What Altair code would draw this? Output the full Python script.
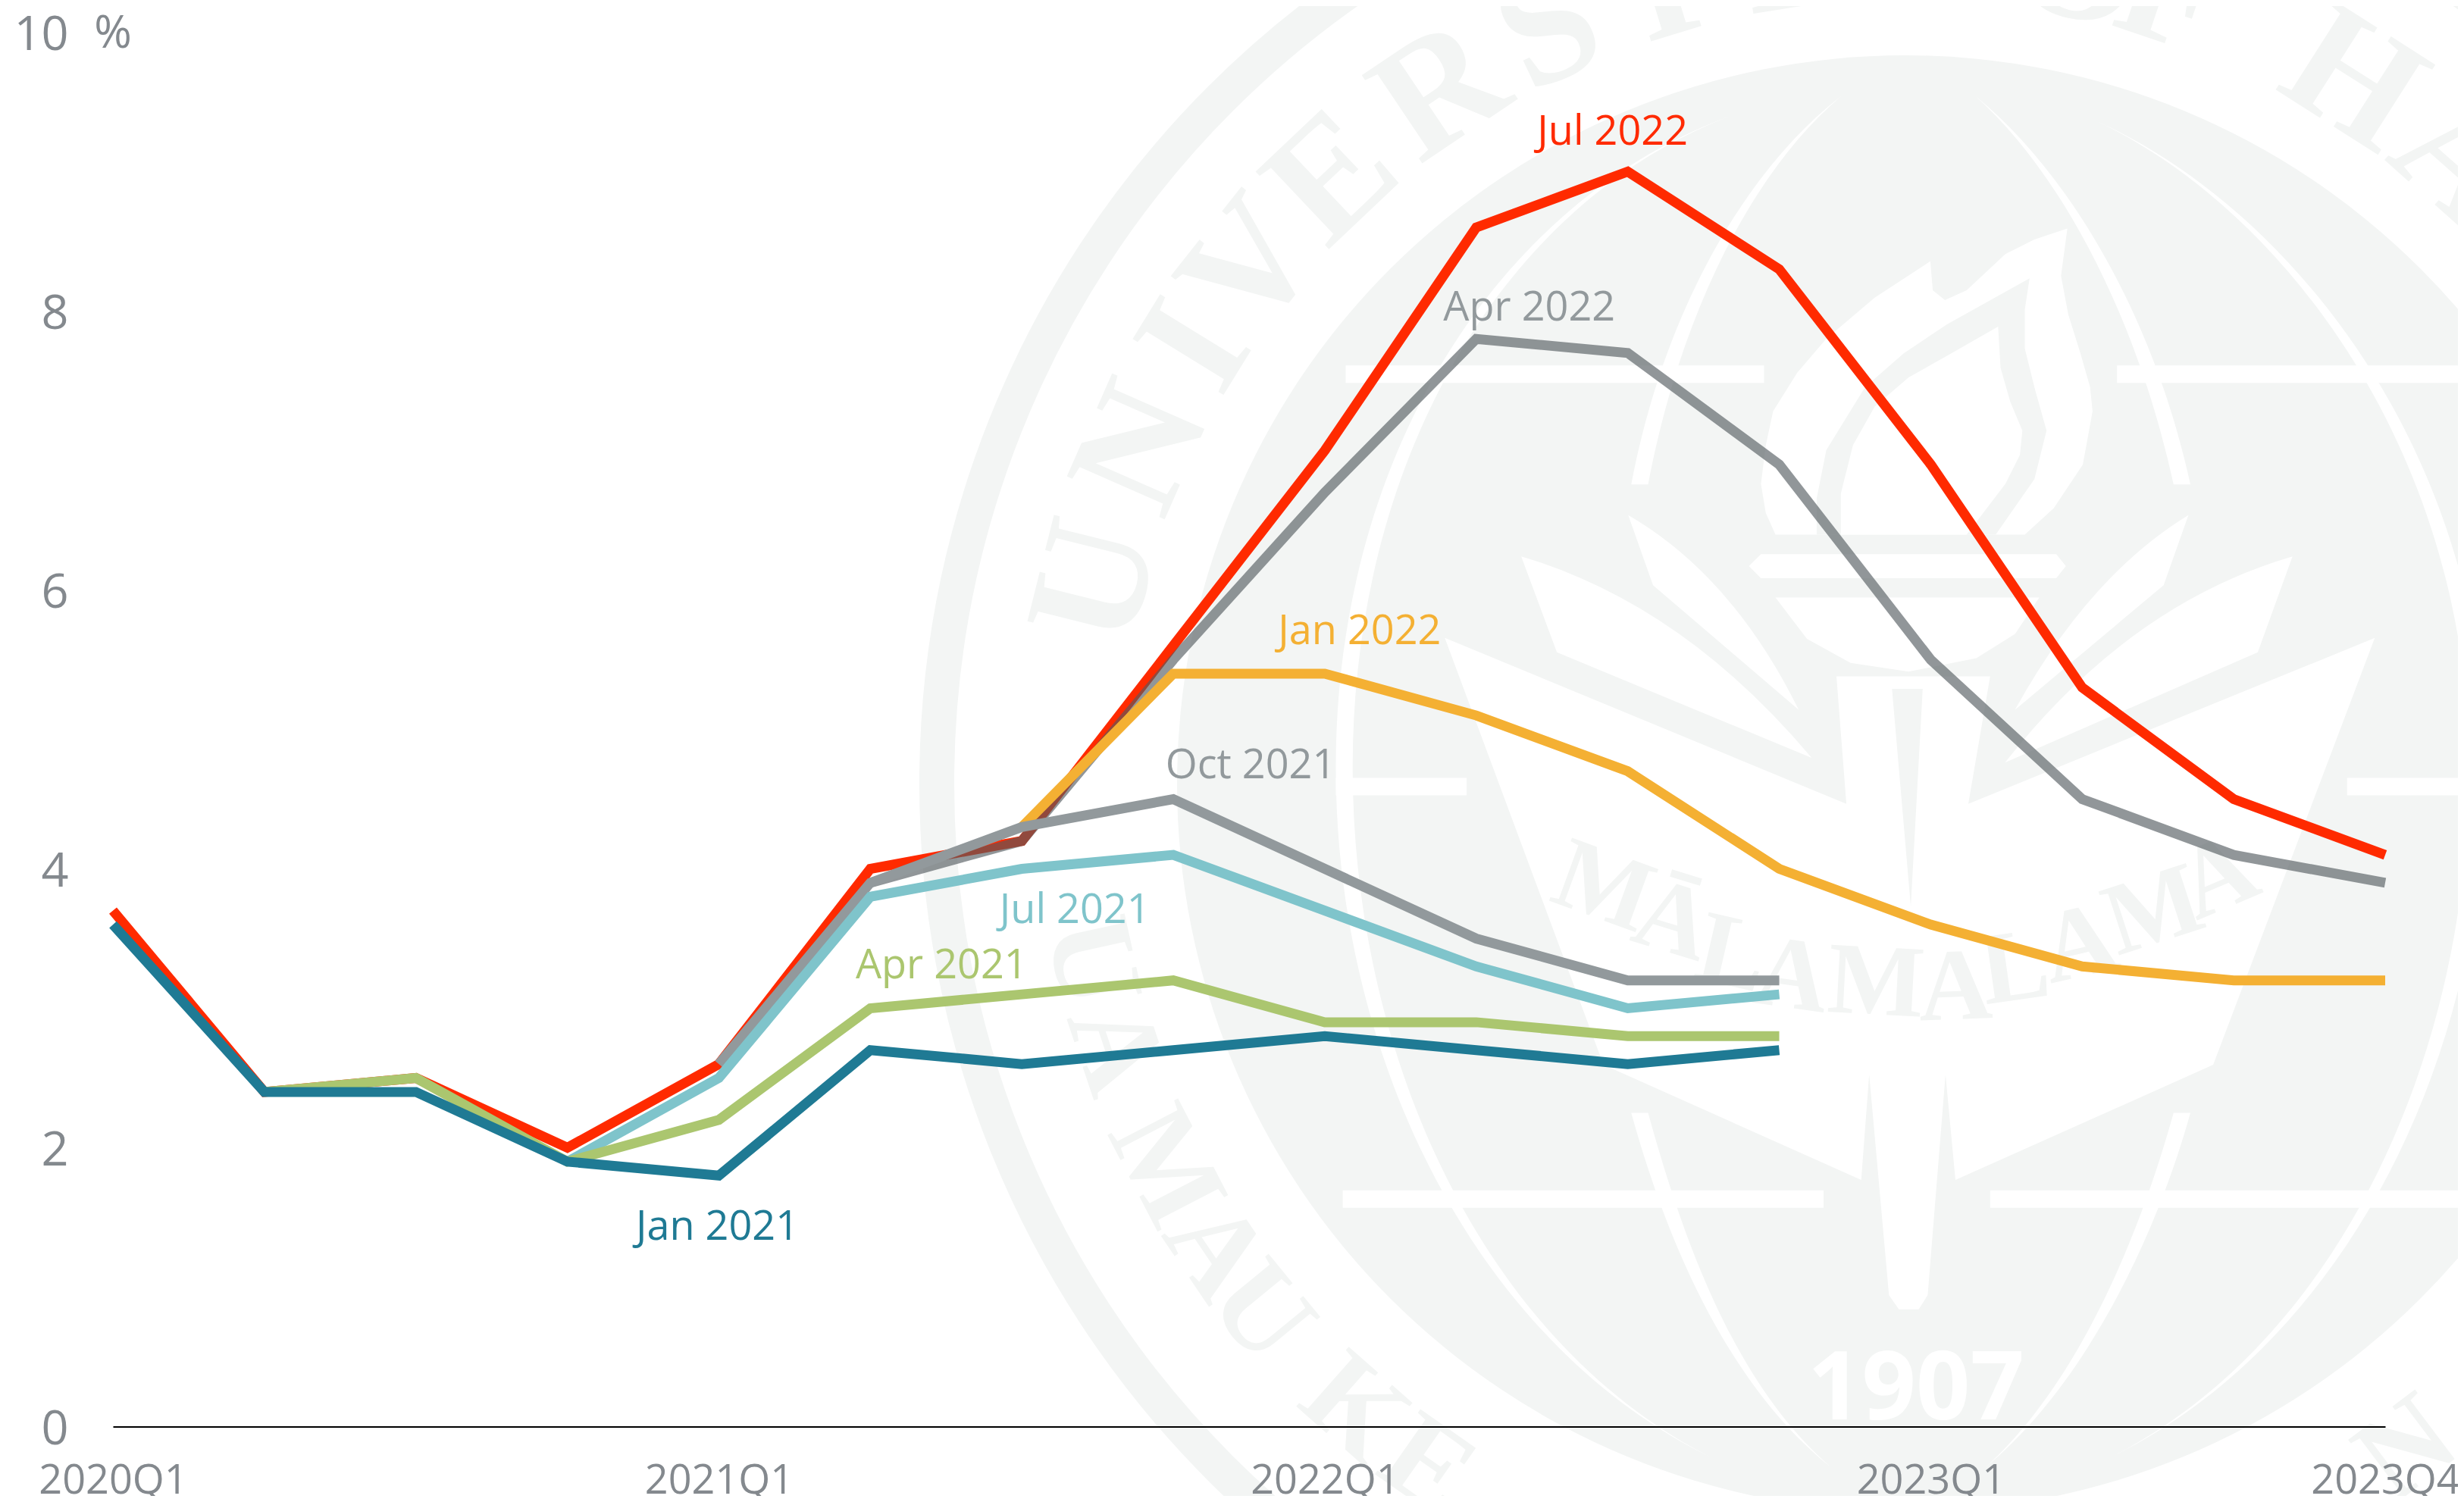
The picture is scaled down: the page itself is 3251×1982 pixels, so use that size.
import math
import altair as alt
import pandas as pd

# ---------- chart values ----------
tick_idx = [0, 4, 8, 12, 15]
tick_txt = ["2020Q1", "2021Q1", "2022Q1", "2023Q1", "2023Q4"]
y_ticks = [0, 2, 4, 6, 8, 10]

jul22 = [3.7, 2.4, 2.5, 2.0, 2.6, 4.0, 4.2, 5.6, 7.0, 8.6, 9.0, 8.3, 6.9, 5.3, 4.5, 4.1]
apr22 = [3.9, 4.2, 5.5, 6.7, 7.8, 7.7, 6.9, 5.5, 4.5, 4.1, 3.9]
jan22 = [4.3, 5.4, 5.4, 5.1, 4.7, 4.0, 3.6, 3.3, 3.2, 3.2]
oct21 = [2.6, 3.9, 4.3, 4.5, 4.0, 3.5, 3.2, 3.2]
jul21 = [1.9, 2.5, 3.8, 4.0, 4.1, 3.7, 3.3, 3.0, 3.1]
apr21 = [2.4, 2.5, 1.9, 2.2, 3.0, 3.1, 3.2, 2.9, 2.9, 2.8, 2.8]
jan21 = [3.6, 2.4, 2.4, 1.9, 1.8, 2.7, 2.6, 2.7, 2.8, 2.7, 2.6, 2.7]

series = [
    ("Jul 2022", 0, jul22, "#ff2a00", 1.0),
    ("Apr 2022", 5, apr22, "#535b60", 0.64),
    ("Jan 2022", 6, jan22, "#f4b033", 1.0),
    ("Oct 2021", 4, oct21, "#92999c", 1.0),
    ("Jul 2021", 3, jul21, "#7fc4cb", 1.0),
    ("Apr 2021", 1, apr21, "#abc66f", 1.0),
    ("Jan 2021", 0, jan21, "#1f7a94", 1.0),
]
label_names = ["Jul 2022", "Apr 2022", "Jan 2022", "Oct 2021", "Jul 2021", "Apr 2021", "Jan 2021"]
label_x = [9.90, 9.35, 8.23, 7.51, 6.35, 5.47, 3.99]
label_y = [9.29, 8.03, 5.71, 4.75, 3.71, 3.31, 1.44]
label_col = ["#ff2a00", "#92999c", "#f4b033", "#92999c", "#7fc4cb", "#abc66f", "#1f7a94"]

GREY = "#f3f5f4"
TICK = "#84898e"
FONT = "Open Sans"
SEAL_FONT = "Liberation Serif"

# plot geometry
W, H = 2998, 1840
X0, Y0 = 149.0, 1882.5
UX, UY = W / 15, H / 10
CX, CY = 2514.0, 1034.0  # seal centre, page pixels


def to_x(px):
    return (px - X0) / UX


def to_y(py):
    return (Y0 - py) / UY


x_enc = alt.X(
    "x:Q",
    title=None,
    scale=alt.Scale(domain=[0, 15], nice=False, zero=False),
    axis=alt.Axis(
        values=tick_idx,
        labelExpr="{" + ",".join(f"'{i}':'{t}'" for i, t in zip(tick_idx, tick_txt)) + "}[datum.value]",
        grid=False, ticks=False, domainColor="#000000", domainWidth=2,
        labelFont=FONT, labelFontSize=54, labelColor=TICK, labelPadding=45, labelLimit=600,
        labelOverlap=False, labelFlush=False, labelBound=False, zindex=1,
    ),
)
y_enc = alt.Y(
    "y:Q",
    title=None,
    scale=alt.Scale(domain=[0, 10], nice=False),
    axis=alt.Axis(
        values=y_ticks, grid=False, ticks=False, domain=False, labelOffset=4,
        labelFont=FONT, labelFontSize=63, labelColor=TICK, labelPadding=59, labelLimit=600,
        labelOverlap=False, labelBound=False, labelFlush=False, zindex=1,
    ),
)

# ---------- seal watermark ----------
seal_at = pd.DataFrame({"x": [to_x(CX)], "y": [to_y(CY)]})
SCALE = 1000.0
PATH_SIZE = (2 * SCALE) ** 2


def zp(zx, zy):
    px = 1200 + zx / 0.7645
    py = zy / 0.79
    return f"{(px - CX) / SCALE:.4f},{(py - CY) / SCALE:.4f}"


def zp3(zx, zy):
    px = 2250 + zx / 1.566
    py = zy / 1.566
    return f"{(px - CX) / SCALE:.4f},{(py - CY) / SCALE:.4f}"


def build(cmds):
    out = []
    for c in cmds:
        op, pts = c[0], c[1:]
        out.append(op + " ".join(zp(*p) for p in pts))
    return " ".join(out)


def poly(pts):
    return build([("M", pts[0])] + [("L", p) for p in pts[1:]]) + " Z"


def poly3(pts):
    return "M" + zp3(*pts[0]) + " " + " ".join("L" + zp3(*p) for p in pts[1:]) + " Z"


def taper(p0, c1, c2, p3, w):
    """tapered white stroke: sharp at p0, w wide (in x) at p3"""
    return build([
        ("M", p0), ("C", c1, c2, p3), ("L", (p3[0] + w, p3[1])),
        ("C", (c2[0] + w, c2[1]), (c1[0] + w * 0.5, c1[1]), p0),
    ]) + " Z"


def seal_path(path, fill=None, stroke=None, sw=0):
    kw = dict(shape=path, size=PATH_SIZE, opacity=1)
    if fill:
        m = alt.Chart(seal_at).mark_point(filled=True, fill=fill, stroke=None, **kw)
    else:
        m = alt.Chart(seal_at).mark_point(filled=False, stroke=stroke, strokeWidth=sw, fill=None, **kw)
    return m.encode(x=x_enc, y=y_enc)


outer_ring = alt.Chart(seal_at).mark_point(
    shape="circle", filled=False, stroke=GREY, strokeWidth=46, size=(2 * 1278) ** 2, opacity=1
).encode(x=x_enc, y=y_enc)
disc = alt.Chart(seal_at).mark_point(
    shape="circle", filled=True, fill=GREY, stroke=None, size=(2 * 961) ** 2, opacity=1
).encode(x=x_enc, y=y_enc)

# curved lettering: angle from straight up (top) or straight down (bottom)
top_letters = list("UNIVERSITYOFHAWAII")
top_deg = [-76, -66.3, -58.4, -51.7, -43.4, -33.9, -25.3, -17, -9, -1, 12, 18.6, 32.5, 41.7, 50, 60, 67, 74]
bot_letters = list("UAMAUKEN")
bot_deg = [-77.6, -71.5, -62.6, -55.9, -50.6, -41.4, -35, 37]
R_TXT = 1100
top_rows = []
bot_rows = []
for ch, a in zip(top_letters, top_deg):
    t = math.radians(a)
    top_rows.append(dict(x=to_x(CX + R_TXT * math.sin(t)), y=to_y(CY - R_TXT * math.cos(t)), t=ch, a=a % 360))
for ch, a in zip(bot_letters, bot_deg):
    t = math.radians(a)
    bot_rows.append(dict(x=to_x(CX + R_TXT * math.sin(t)), y=to_y(CY + R_TXT * math.cos(t)), t=ch, a=(-a) % 360))
ring_text = alt.Chart(pd.DataFrame(top_rows)).mark_text(
    font=SEAL_FONT, fontSize=215, fontWeight="bold", color=GREY, baseline="middle", align="center"
).encode(x=x_enc, y=y_enc, text="t:N", angle=alt.Angle("a:Q", scale=None))
ring_text2 = alt.Chart(pd.DataFrame(bot_rows)).mark_text(
    font=SEAL_FONT, fontSize=160, fontWeight="bold", color=GREY, baseline="middle", align="center"
).encode(x=x_enc, y=y_enc, text="t:N", angle=alt.Angle("a:Q", scale=None))

# white globe lines
W_M = 17
merid = " ".join([
    taper((830, 120), (590, 210), (430, 480), (430, 800), W_M),
    taper((810, 1520), (570, 1400), (430, 1100), (430, 800), W_M),
    taper((1195, 125), (1400, 220), (1590, 480), (1590, 800), -W_M),
    taper((1210, 1520), (1450, 1400), (1590, 1100), (1590, 800), -W_M),
    taper((940, 100), (840, 180), (760, 330), (728, 505), W_M),
    taper((1075, 100), (1170, 180), (1255, 330), (1292, 505), -W_M),
    taper((930, 1530), (820, 1440), (760, 1280), (728, 1160), W_M),
    taper((1085, 1530), (1190, 1440), (1260, 1280), (1292, 1160), -W_M),
])
lines_path = " ".join([
    build([("M", (440, 390)), ("L", (862, 390))]),
    build([("M", (1218, 390)), ("L", (1640, 390))]),
    build([("M", (430, 820)), ("L", (562, 820))]),
    build([("M", (1450, 820)), ("L", (1640, 820))]),
    build([("M", (437, 1250)), ("L", (922, 1250))]),
    build([("M", (1090, 1250)), ("L", (1640, 1250))]),
])
white_lines = seal_path(lines_path, stroke="#ffffff", sw=23)
white_merid = seal_path(merid, fill="#ffffff")

banner = poly([(540, 665), (945, 838), (935, 705), (1090, 705), (1068, 838), (1478, 665),
               (1315, 1110), (1055, 1230), (1045, 1120), (1027, 1350), (1018, 1365), (998, 1365),
               (988, 1350), (968, 1120), (960, 1230), (700, 1110)])
leaves = " ".join([
    build([("M", (617, 580)), ("Q", (780, 630), (910, 790)), ("L", (653, 680))]) + " Z",
    build([("M", (1395, 580)), ("Q", (1230, 630), (1105, 795)), ("L", (1360, 680))]) + " Z",
    build([("M", (725, 537)), ("Q", (830, 600), (897, 740)), ("L", (750, 610))]) + " Z",
    build([("M", (1290, 537)), ("Q", (1190, 600), (1115, 740)), ("L", (1265, 610))]) + " Z",
])
flame_outer = poly3([(145, 1105), (125, 1060), (115, 1000), (125, 920), (140, 850), (190, 770), (250, 700),
                     (350, 615), (465, 540), (470, 600), (495, 620), (540, 600), (620, 525), (680, 495),
                     (748, 472), (735, 570), (750, 650), (775, 730), (795, 800), (800, 850), (780, 960),
                     (720, 1050), (660, 1105)])
bar = poly3([(115, 1145), (725, 1145), (745, 1170), (725, 1195), (115, 1195), (90, 1170)])
bowl = poly3([(145, 1235), (690, 1235), (640, 1310), (560, 1360), (420, 1388), (300, 1370), (210, 1320)])
white_shapes = seal_path(" ".join([banner, leaves, flame_outer, bar, bowl]), fill="#ffffff")

flame_mid = poly3([(230, 1105), (230, 1030), (250, 930), (330, 800), (410, 730), (500, 670), (670, 575),
                   (660, 640), (660, 720), (680, 800), (705, 890), (680, 990), (600, 1105)])
pole = poly([(991, 718), (1022, 718), (1010, 945)])
grey_shapes = seal_path(flame_mid + " " + pole, fill=GREY)

flame_inner = poly3([(280, 1105), (280, 1020), (305, 920), (350, 840), (420, 780), (500, 735), (605, 675),
                     (610, 760), (630, 830), (655, 890), (650, 940), (620, 1000), (540, 1105)])
inner_white = seal_path(flame_inner, fill="#ffffff")

motto_letters = list("MĀLAMALAMA")
motto_zx = [700, 770, 830, 890, 975, 1055, 1115, 1180, 1255, 1320]
motto_zy = [925, 960, 995, 1018, 1025, 1030, 1010, 985, 950, 915]
motto_a = [20, 17, 13, 8, 3, 358, 352, 347, 342, 337]
motto = alt.Chart(pd.DataFrame({
    "x": [to_x(1200 + v / 0.7645) for v in motto_zx],
    "y": [to_y(v / 0.79) for v in motto_zy],
    "t": motto_letters, "a": motto_a,
})).mark_text(font=SEAL_FONT, fontSize=135, fontWeight="bold", color=GREY, baseline="middle", align="center").encode(
    x=x_enc, y=y_enc, text="t:N", angle=alt.Angle("a:Q", scale=None))

year = alt.Chart(pd.DataFrame({"x": [to_x(2528)], "y": [to_y(1835)], "t": ["1907"]})).mark_text(
    font=FONT, fontSize=125, fontWeight="bold", color="#ffffff", baseline="middle", align="center"
).encode(x=x_enc, y=y_enc, text="t:N")

# ---------- data lines ----------
line_layers = []
for name, start, vals, col, op in series:
    df = pd.DataFrame({"x": list(range(start, start + len(vals))), "y": vals})
    line_layers.append(
        alt.Chart(df).mark_line(color=col, strokeWidth=13, opacity=op, strokeJoin="miter", strokeCap="butt",
                                interpolate="linear").encode(x=x_enc, y=y_enc)
    )

labels = alt.Chart(pd.DataFrame({"x": label_x, "y": label_y, "t": label_names, "c": label_col})).mark_text(
    font=FONT, fontSize=54, baseline="middle", align="center", dy=2
).encode(x=x_enc, y=y_enc, text="t:N", color=alt.Color("c:N", scale=None, legend=None))

unit = alt.Chart(pd.DataFrame({"x": [0], "y": [10], "t": ["%"]})).mark_text(
    font=FONT, fontSize=60, color=TICK, baseline="middle", align="center", dy=2
).encode(x=x_enc, y=y_enc, text="t:N")

chart = alt.layer(
    outer_ring, disc, ring_text, ring_text2, white_merid, white_lines, white_shapes, grey_shapes, inner_white,
    motto, year, *line_layers, labels, unit,
).resolve_scale(x="shared", y="shared").properties(
    width=W,
    height=H,
    autosize=alt.AutoSizeParams(type="none"),
    padding={"left": 141, "top": 34.5, "right": 96, "bottom": 91.5},
    background="#ffffff",
).configure_view(stroke=None)

chart.save("out.html", embed_options={"renderer": "svg", "actions": False})
